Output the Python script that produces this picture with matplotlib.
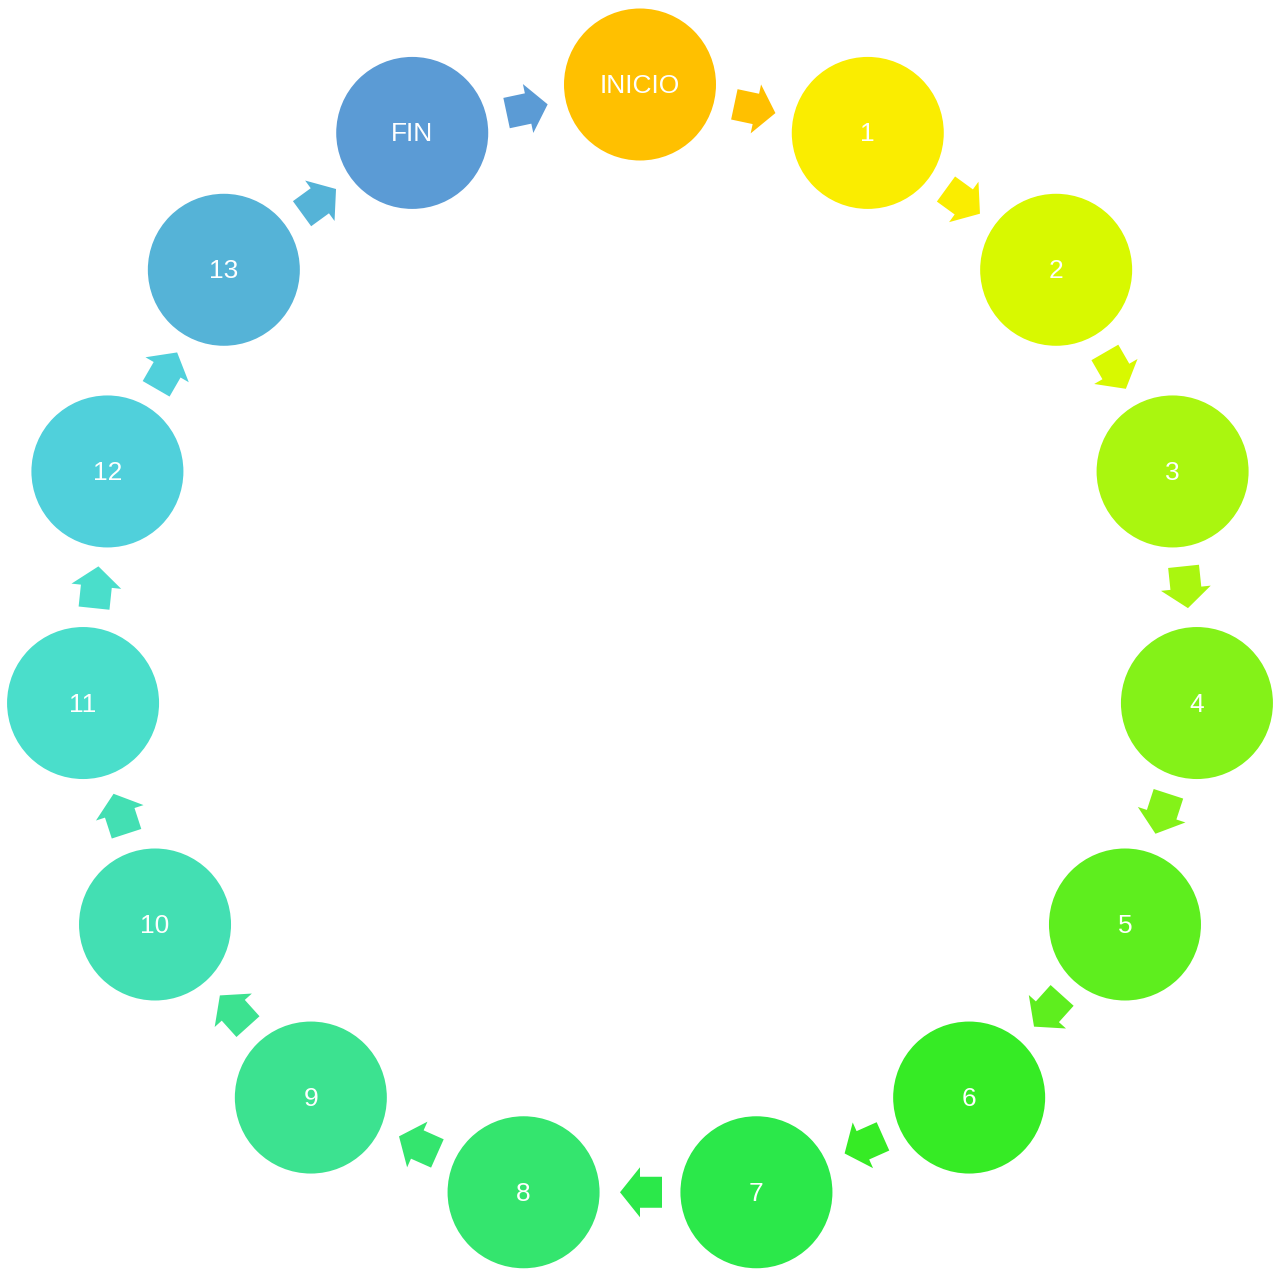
import numpy as np
import matplotlib
matplotlib.use("Agg")
import matplotlib.pyplot as plt
from matplotlib.patches import Circle, Polygon

labels = ["INICIO", "1", "2", "3", "4", "5", "6", "7", "8", "9", "10", "11", "12", "13", "FIN"]
colors = ["#FFC000", "#FAED00", "#D8F900", "#AAF60F", "#84F218", "#5EEE1E", "#36EB25",
          "#2BE84A", "#34E56E", "#3CE290", "#43DFB3", "#4ADECB", "#50D0DB", "#55B3D7", "#5B9BD5"]

W, H = 1282, 1270
fig = plt.figure(figsize=(W / 100, H / 100), dpi=100)
ax = fig.add_axes([0, 0, 1, 1])
ax.set_xlim(0, W)
ax.set_ylim(H, 0)
ax.set_aspect("equal")
ax.axis("off")

cx, cy, R = 640.0, 644.5, 560.0
r_node = 76.0
n = len(labels)
angles = np.deg2rad(90 - np.arange(n) * 360.0 / n)
xs = cx + R * np.cos(angles)
ys = cy - R * np.sin(angles)

# arrow shape (local coords: along, across)
L, hl, sw, hw = 42.0, 20.0, 31.0, 50.0
shape = np.array([
    [-L / 2, -sw / 2], [L / 2 - hl, -sw / 2], [L / 2 - hl, -hw / 2], [L / 2, 0],
    [L / 2 - hl, hw / 2], [L / 2 - hl, sw / 2], [-L / 2, sw / 2]])

for i in range(n):
    j = (i + 1) % n
    mx, my = (xs[i] + xs[j]) / 2, (ys[i] + ys[j]) / 2
    d = np.array([xs[j] - xs[i], ys[j] - ys[i]])
    u = d / np.linalg.norm(d)
    v = np.array([-u[1], u[0]])
    pts = np.array([[mx + 1, my]]) + shape[:, :1] * u + shape[:, 1:] * v
    ax.add_patch(Polygon(pts, closed=True, facecolor=colors[i], edgecolor="none"))

for i in range(n):
    ax.add_patch(Circle((xs[i], ys[i]), r_node, facecolor=colors[i], edgecolor="none"))
    ax.text(xs[i], ys[i] + 1.5, labels[i], color="white", fontsize=19,
            family=["Liberation Sans", "DejaVu Sans"], ha="center", va="center")

fig.savefig("out.png", dpi=100, facecolor="white")
